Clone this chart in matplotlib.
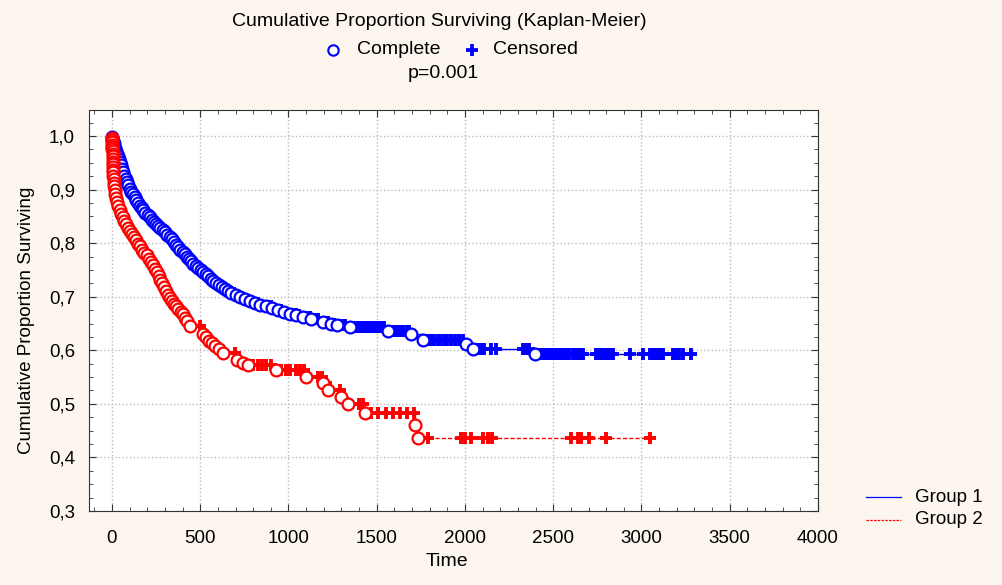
import matplotlib
matplotlib.use("Agg")
import matplotlib.pyplot as plt
from matplotlib.lines import Line2D
from matplotlib.ticker import MultipleLocator, FuncFormatter

plt.rcParams['font.family'] = ['Liberation Sans', 'DejaVu Sans']

# ------------------------------
# Data
# ------------------------------
# Group 1: event times (circles) and survival after each event
g1_event_t = [1, 3, 6, 9, 13, 17, 22, 27, 33, 39, 45, 51, 57, 63, 70, 77, 84, 92, 100,
              109, 118, 128, 138, 148, 158, 168, 178, 190, 202, 214, 226, 238, 250, 262,
              275, 288, 301, 314, 327, 340, 352, 364, 376, 388, 400, 412, 424, 436, 449,
              462, 476, 490, 504, 518, 532, 546, 560, 575, 590, 606, 622, 638, 655, 675,
              700, 725, 752, 780, 810, 840, 870, 905, 940, 975, 1010, 1045, 1083, 1130,
              1197, 1240, 1275, 1348, 1565, 1697, 1763, 2008, 2046, 2395]
g1_event_s = [0.998, 0.995, 0.991, 0.987, 0.982, 0.977, 0.972, 0.967, 0.962, 0.957, 0.952,
              0.945, 0.938, 0.932, 0.926, 0.920, 0.914, 0.908, 0.902, 0.896, 0.891, 0.886,
              0.881, 0.875, 0.870, 0.866, 0.862, 0.857, 0.852, 0.848, 0.844, 0.840, 0.836,
              0.832, 0.828, 0.824, 0.820, 0.816, 0.812, 0.807, 0.802, 0.797, 0.792, 0.788,
              0.784, 0.779, 0.774, 0.770, 0.766, 0.762, 0.758, 0.754, 0.750, 0.746, 0.742,
              0.738, 0.734, 0.730, 0.726, 0.722, 0.718, 0.714, 0.710, 0.707, 0.703, 0.699,
              0.696, 0.692, 0.689, 0.685, 0.682, 0.679, 0.676, 0.672, 0.668, 0.665, 0.662,
              0.658, 0.653, 0.650, 0.647, 0.644, 0.636, 0.630, 0.620, 0.612, 0.603, 0.594]
g1_censor_t = [690, 760, 830, 900, 960, 1020, 1040, 1060, 1100, 1120, 1150, 1170, 1210,
               1225, 1260, 1300, 1320, 1360, 1375, 1390, 1405, 1420, 1435, 1450, 1465,
               1480, 1495, 1510, 1525, 1540, 1585, 1600, 1615, 1630, 1650, 1670, 1685,
               1780, 1795, 1810, 1825, 1845, 1860, 1880, 1900, 1920, 1945, 1965, 1990,
               2065, 2080, 2095, 2110, 2150, 2175, 2330, 2345, 2360, 2425, 2440, 2455,
               2470, 2485, 2500, 2515, 2530, 2545, 2560, 2575, 2590, 2610, 2625, 2640,
               2655, 2670, 2745, 2760, 2775, 2790, 2805, 2820, 2838, 2933, 3007, 3046,
               3060, 3075, 3090, 3105, 3120, 3177, 3195, 3215, 3233, 3282]

# Group 2
g2_event_t = [1, 1, 2, 2, 3, 3, 4, 4, 5, 5, 6, 6, 7, 7, 8, 8, 9, 11, 13, 16, 19, 24, 30,
              37, 45, 53, 61, 70, 80, 90, 101, 112, 124, 136, 148, 160, 172, 184, 196, 208,
              220, 232, 244, 254, 264, 274, 284, 294, 305, 316, 328, 340, 352, 364, 376,
              390, 403, 416, 428, 442, 517, 533, 550, 566, 583, 606, 630, 706, 740, 768,
              932, 1102, 1197, 1225, 1300, 1338, 1433, 1716, 1735]
g2_event_s = [0.996, 0.992, 0.988, 0.984, 0.980, 0.976, 0.972, 0.967, 0.962, 0.957, 0.952,
              0.947, 0.942, 0.937, 0.932, 0.926, 0.920, 0.913, 0.906, 0.899, 0.892, 0.884,
              0.877, 0.869, 0.861, 0.854, 0.848, 0.842, 0.835, 0.829, 0.823, 0.817, 0.811,
              0.805, 0.799, 0.794, 0.788, 0.782, 0.777, 0.771, 0.765, 0.759, 0.752, 0.746,
              0.739, 0.732, 0.725, 0.718, 0.711, 0.704, 0.697, 0.692, 0.687, 0.682, 0.677,
              0.672, 0.667, 0.661, 0.655, 0.646, 0.630, 0.624, 0.618, 0.613, 0.608, 0.602,
              0.595, 0.582, 0.577, 0.572, 0.563, 0.551, 0.539, 0.525, 0.513, 0.499, 0.483,
              0.460, 0.437]
g2_censor_t = [498, 696, 800, 825, 850, 875, 900, 960, 985, 1010, 1040, 1065, 1090, 1170,
               1190, 1215, 1291, 1400, 1420, 1470, 1510, 1550, 1590, 1630, 1670, 1710,
               1791, 1975, 2000, 2035, 2100, 2130, 2155, 2600, 2640, 2660, 2700, 2801, 3047]

x_ticks = [0, 500, 1000, 1500, 2000, 2500, 3000, 3500, 4000]
y_ticks = [0.3, 0.4, 0.5, 0.6, 0.7, 0.8, 0.9, 1.0]

BG = '#fdf6ee'
BLUE = '#0000ff'
RED = '#ff0000'


def surv_at(times, surv, t):
    s = 1.0
    for et, es in zip(times, surv):
        if et <= t:
            s = es
    return s


def draw_group(ax, ev_t, ev_s, cen_t, color, ls):
    end_t = max(max(ev_t), max(cen_t))
    xs = [0] + list(ev_t) + [end_t]
    ys = [1.0] + list(ev_s) + [ev_s[-1]]
    ax.plot(xs, ys, drawstyle='steps-post', color=color, lw=1.0, ls=ls, zorder=2)
    cs = [surv_at(ev_t, ev_s, t) for t in cen_t]
    ax.plot(cen_t, cs, ls='none', marker='+', ms=9, mew=2.8, color=color, zorder=3)
    ax.plot(ev_t, ev_s, ls='none', marker='o', ms=8.5, mew=1.6, mec=color,
            mfc='white', zorder=4)


fig = plt.figure(figsize=(10.03, 5.85), dpi=100, facecolor=BG)
ax = fig.add_axes([89 / 1003, 1 - 511 / 585, (818 - 89) / 1003, (511 - 110) / 585])
ax.set_facecolor('white')

draw_group(ax, g1_event_t, g1_event_s, g1_censor_t, BLUE, '-')
draw_group(ax, g2_event_t, g2_event_s, g2_censor_t, RED, (0, (3, 1.5)))

ax.set_xlim(-130, 4000)
ax.set_ylim(0.3, 1.0486)
ax.set_xticks(x_ticks)
ax.set_yticks(y_ticks)
ax.xaxis.set_minor_locator(MultipleLocator(100))
ax.yaxis.set_minor_locator(MultipleLocator(0.025))
ax.yaxis.set_major_formatter(FuncFormatter(lambda v, p: f"{v:.1f}".replace('.', ',')))
ax.tick_params(which='both', direction='in', top=True, right=True, labelsize=13.5,
               color='#333333', labelcolor='black', pad=10)
ax.tick_params(which='major', length=5)
ax.tick_params(which='minor', length=3)
ax.tick_params(axis='x', pad=14)
ax.grid(True, which='major', ls=':', color='#bbbbbb', lw=1.0)
ax.set_axisbelow(True)
for sp in ax.spines.values():
    sp.set_color('#333333')

fig.text(447 / 1003, 1 - 562 / 585, 'Time', ha='center', va='center', fontsize=14)
fig.text(27 / 1003, 1 - 320 / 585, 'Cumulative Proportion Surviving', rotation=90,
         ha='center', va='center', fontsize=13.5)

# header texts
fig.text(439 / 1003, 1 - 22 / 585, 'Cumulative Proportion Surviving (Kaplan-Meier)',
         ha='center', va='center', fontsize=14)
fig.add_artist(Line2D([333 / 1003], [1 - 50 / 585], marker='o', ms=7.5, mew=1.5,
                      mec=BLUE, mfc='white', transform=fig.transFigure))
fig.text(357 / 1003, 1 - 50 / 585, 'Complete', ha='left', va='center', fontsize=14)
fig.add_artist(Line2D([472 / 1003], [1 - 50 / 585], marker='+', ms=8.5, mew=2.7,
                      color=BLUE, transform=fig.transFigure))
fig.text(493 / 1003, 1 - 50 / 585, 'Censored', ha='left', va='center', fontsize=14)
fig.text(443 / 1003, 1 - 73 / 585, 'p=0.001', ha='center', va='center', fontsize=14)

# group legend
for yy, col, ls, lab in [(497, BLUE, '-', 'Group 1'), (520, RED, (0, (2, 1)), 'Group 2')]:
    fig.add_artist(Line2D([866 / 1003, 901 / 1003], [1 - yy / 585] * 2, color=col,
                          lw=0.9, ls=ls, transform=fig.transFigure))
    fig.text(915 / 1003, 1 - yy / 585, lab, ha='left', va='center', fontsize=13.5)

fig.savefig('out.png', dpi=100, facecolor=BG)
